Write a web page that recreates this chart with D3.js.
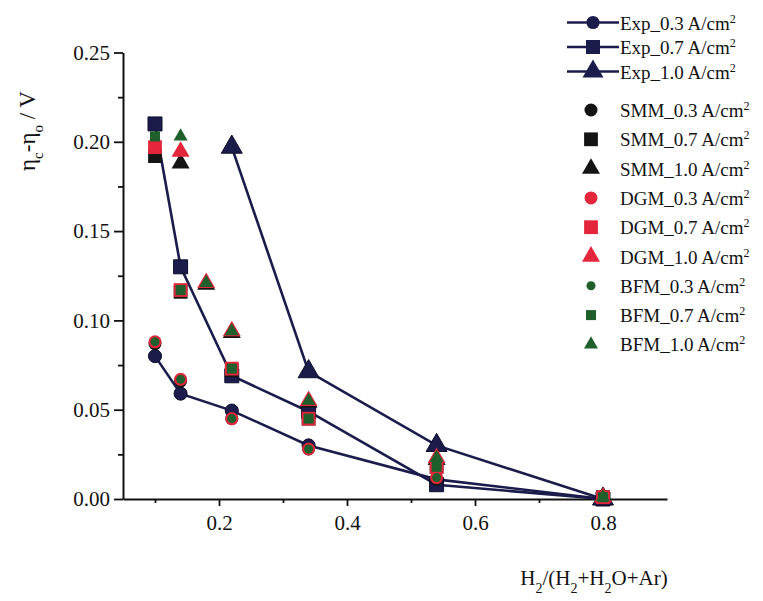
<!DOCTYPE html>
<html>
<head>
<meta charset="utf-8">
<script src="https://cdn.jsdelivr.net/npm/d3@7"></script>
<style>
  body { margin: 0; background: #fff; }
  svg text { font-family: "Liberation Serif", "Times New Roman", serif; fill: #111; }
</style>
</head>
<body>
<script>
// data
var xLow = [0.1, 0.14, 0.22, 0.34, 0.54, 0.8];     // 0.3 and 0.7 A/cm2
var xExpHigh = [0.22, 0.34, 0.54, 0.8];            // Exp 1.0 A/cm2
var xModelHigh = [0.14, 0.18, 0.22, 0.34, 0.54, 0.8]; // models 1.0 A/cm2

var exp03 = [0.080, 0.059, 0.0495, 0.030, 0.011, 0.0];
var exp07 = [0.210, 0.130, 0.069, 0.049, 0.008, 0.0];
var exp10 = [0.197, 0.0713, 0.030, 0.0];

var smm03 = [0.087, 0.066, 0.045, 0.028, 0.011, 0.001];
var smm07 = [0.192, 0.116, 0.072, 0.045, 0.018, 0.001];
var smm10 = [0.188, 0.120, 0.093, 0.054, 0.022, 0.001];

var dgm03 = [0.088, 0.067, 0.045, 0.028, 0.012, 0.001];
var dgm07 = [0.197, 0.117, 0.073, 0.045, 0.018, 0.001];
var dgm10 = [0.1945, 0.121, 0.094, 0.055, 0.023, 0.001];

var bfm03 = [0.088, 0.067, 0.045, 0.028, 0.012, 0.001];
var bfm07 = [0.203, 0.117, 0.073, 0.045, 0.018, 0.001];
var bfm10 = [0.203, 0.121, 0.094, 0.055, 0.023, 0.001];

var yTicks = [0, 0.05, 0.10, 0.15, 0.20, 0.25],
    yMinor = [0.025, 0.075, 0.125, 0.175, 0.225],
    xTicks = [0.2, 0.4, 0.6, 0.8],
    xMinor = [0.1, 0.3, 0.5, 0.7];

var w = 763, h = 601;
var serif = '"Liberation Serif", "Times New Roman", serif';

var navy = "#1b1c4c", red = "#e3263b", green = "#1f5f2b", black = "#141414";

var svg = d3.select("body").append("svg")
    .attr("width", w)
    .attr("height", h)
    .style("font-family", serif);

var xScale = d3.scaleLinear().domain([0.05, 0.9]).range([123, 667]);
var yScale = d3.scaleLinear().domain([0, 0.25]).range([499, 52.5]);

// symbol sizes: [circle, square, triangle]
var bigSize = {c: 135, s: 196, t: 190};
var midSize = {c: 133, s: 190, t: 140};
var smallSize = {c: 64, s: 100, t: 85};

function sym(type, size) {
  var t = type === "c" ? d3.symbolCircle : type === "s" ? d3.symbolSquare : d3.symbolTriangle;
  return d3.symbol().type(t).size(size[type])();
}

function zip(xs, ys) { return xs.map(function(x, i) { return {x: x, y: ys[i]}; }); }

var exps = [
  {name: "Exp_0.3", xs: xLow, ys: exp03, t: "c"},
  {name: "Exp_0.7", xs: xLow, ys: exp07, t: "s"},
  {name: "Exp_1.0", xs: xExpHigh, ys: exp10, t: "t"}
];
var models = [
  {name: "SMM_0.3", xs: xLow, ys: smm03, t: "c", col: black, size: midSize},
  {name: "SMM_0.7", xs: xLow, ys: smm07, t: "s", col: black, size: midSize},
  {name: "SMM_1.0", xs: xModelHigh, ys: smm10, t: "t", col: black, size: midSize},
  {name: "DGM_0.3", xs: xLow, ys: dgm03, t: "c", col: red, size: midSize},
  {name: "DGM_0.7", xs: xLow, ys: dgm07, t: "s", col: red, size: midSize},
  {name: "DGM_1.0", xs: xModelHigh, ys: dgm10, t: "t", col: red, size: midSize},
  {name: "BFM_0.3", xs: xLow, ys: bfm03, t: "c", col: green, size: smallSize},
  {name: "BFM_0.7", xs: xLow, ys: bfm07, t: "s", col: green, size: smallSize},
  {name: "BFM_1.0", xs: xModelHigh, ys: bfm10, t: "t", col: green, size: smallSize}
];

// axes
svg.append("g")
    .attr("transform", "translate(" + xScale(0.05) + ",0)")
    .call(d3.axisLeft(yScale).tickValues(yTicks).tickFormat(d3.format(".2f")).tickSize(9).tickSizeOuter(0).tickPadding(4));
svg.append("g")
    .attr("transform", "translate(" + xScale(0.05) + ",0)")
    .call(d3.axisLeft(yScale).tickValues(yMinor).tickFormat("").tickSize(5).tickSizeOuter(0))
    .select(".domain").remove();

svg.append("g")
    .attr("transform", "translate(0," + yScale(0) + ")")
    .call(d3.axisBottom(xScale).tickValues(xTicks).tickFormat(d3.format(".1f")).tickSize(7).tickSizeOuter(0).tickPadding(9));
svg.append("g")
    .attr("transform", "translate(0," + yScale(0) + ")")
    .call(d3.axisBottom(xScale).tickValues(xMinor).tickFormat("").tickSize(4).tickSizeOuter(0))
    .select(".domain").remove();

svg.selectAll("g").attr("font-family", null);
svg.selectAll(".domain").attr("stroke", "#111").attr("stroke-width", 2);
svg.selectAll(".tick line").attr("stroke", "#111").attr("stroke-width", 1.8);
svg.selectAll(".tick text")
    .style("font-family", serif)
    .style("font-size", "21px")
    .attr("fill", "#111");

// experiment lines
var line = d3.line().x(function(d) { return xScale(d.x); }).y(function(d) { return yScale(d.y); });
exps.forEach(function(s) {
  svg.append("path")
      .attr("d", line(zip(s.xs, s.ys)))
      .attr("fill", "none")
      .attr("stroke", navy)
      .attr("stroke-width", 2.6);
});
exps.forEach(function(s) {
  svg.selectAll(null)
      .data(zip(s.xs, s.ys))
      .enter().append("path")
      .attr("d", sym(s.t, bigSize))
      .attr("transform", function(d) { return "translate(" + xScale(d.x) + "," + yScale(d.y) + ")"; })
      .attr("fill", navy)
      .attr("stroke", "#0d0d2a")
      .attr("stroke-width", 1);
});
models.forEach(function(s) {
  svg.selectAll(null)
      .data(zip(s.xs, s.ys))
      .enter().append("path")
      .attr("d", sym(s.t, s.size))
      .attr("transform", function(d) { return "translate(" + xScale(d.x) + "," + yScale(d.y) + ")"; })
      .attr("fill", s.col);
});

// axis titles
var yt = svg.append("text")
    .attr("transform", "translate(35,131) rotate(-90)")
    .attr("text-anchor", "middle")
    .style("font-size", "23px");
yt.append("tspan").text("η");
yt.append("tspan").attr("baseline-shift", "sub").style("font-size", "15px").text("c");
yt.append("tspan").text("-η");
yt.append("tspan").attr("baseline-shift", "sub").style("font-size", "15px").text("o");
yt.append("tspan").text(" / V");

var xt = svg.append("text")
    .attr("x", 594)
    .attr("y", 585)
    .attr("text-anchor", "middle")
    .style("font-size", "21px");
xt.append("tspan").text("H");
xt.append("tspan").attr("baseline-shift", "sub").style("font-size", "14px").text("2");
xt.append("tspan").text("/(H");
xt.append("tspan").attr("baseline-shift", "sub").style("font-size", "14px").text("2");
xt.append("tspan").text("+H");
xt.append("tspan").attr("baseline-shift", "sub").style("font-size", "14px").text("2");
xt.append("tspan").text("O+Ar)");

// legend
var legendItems = exps.map(function(s, i) {
  return {name: s.name, t: s.t, col: navy, size: bigSize, y: 22.5 + i * 24.5, line: true, mx: 593};
}).concat(models.map(function(s, i) {
  return {name: s.name, t: s.t, col: s.col, size: s.size, y: 110 + i * 29.3, line: false, mx: 591};
}));

var legend = svg.selectAll(".legend")
    .data(legendItems)
    .enter().append("g")
    .attr("class", "legend")
    .attr("transform", function(d) { return "translate(0," + d.y + ")"; });

legend.filter(function(d) { return d.line; })
  .append("line")
    .attr("x1", 567).attr("x2", 619)
    .attr("stroke", navy).attr("stroke-width", 2.6);

legend.append("path")
    .attr("d", function(d) { return sym(d.t, d.size); })
    .attr("transform", function(d) { return "translate(" + d.mx + ",0)"; })
    .attr("fill", function(d) { return d.col; });

var lt = legend.append("text")
    .attr("x", 620)
    .attr("y", 7)
    .style("font-size", "19px");
lt.append("tspan").text(function(d) { return d.name + " A/cm"; });
lt.append("tspan").attr("baseline-shift", "super").style("font-size", "12px").text("2");
</script>
</body>
</html>
